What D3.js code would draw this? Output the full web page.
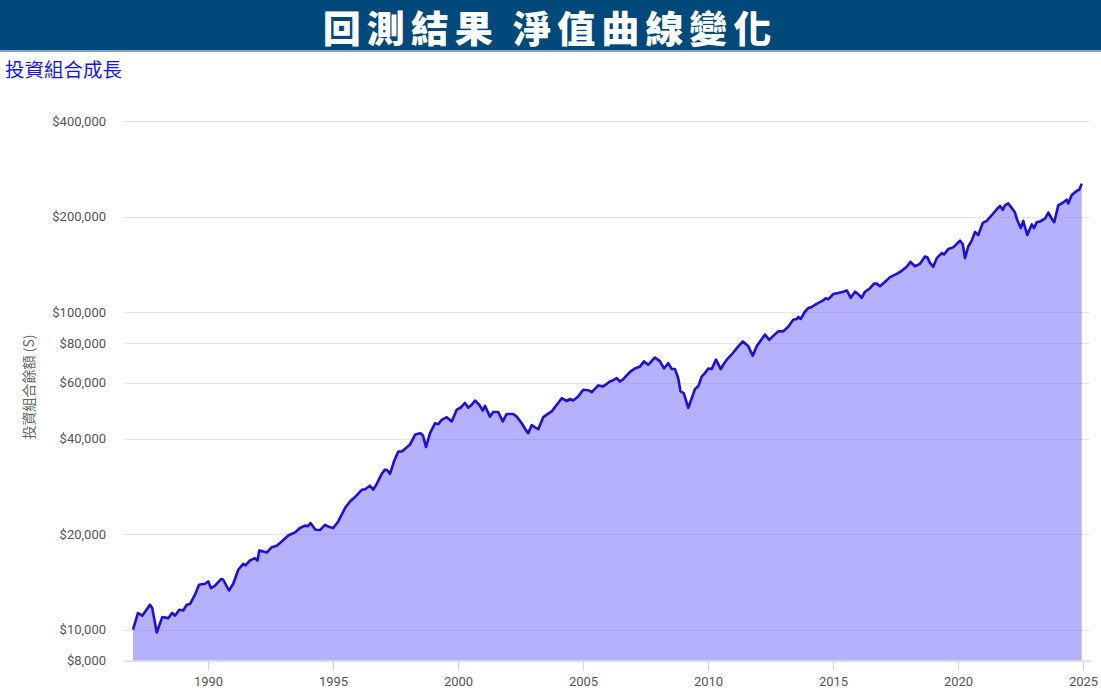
<!DOCTYPE html>
<html>
<head>
<meta charset="utf-8">
<script src="https://cdn.jsdelivr.net/npm/d3@7"></script>
<style>
  body { margin: 0; background: #fff; }
  svg { display: block; }
</style>
</head>
<body>
<div id="chart"></div>
<script>
// ---- data ----
const titleText = "回測結果 淨值曲線變化";
const subTitle = "投資組合成長";
const yLabel = "投資組合餘額 (S)";

const yTicks = [8000, 10000, 20000, 40000, 60000, 80000, 100000, 200000, 400000];
const xTicks = [1990, 1995, 2000, 2005, 2010, 2015, 2020, 2025];

// time points (decimal year)
const dates = [
  1987.00, 1987.20, 1987.37, 1987.68, 1987.77, 1987.95, 1988.17, 1988.41, 1988.57, 1988.68,
  1988.85, 1989.01, 1989.15, 1989.28, 1989.48, 1989.64, 1989.88, 1990.01, 1990.12, 1990.28,
  1990.52, 1990.60, 1990.84, 1991.01, 1991.21, 1991.41, 1991.50, 1991.68, 1991.88, 1991.98,
  1992.05, 1992.20, 1992.35, 1992.55, 1992.75, 1992.95, 1993.21, 1993.48, 1993.68, 1993.88,
  1994.00, 1994.10, 1994.30, 1994.48, 1994.68, 1994.83, 1995.01, 1995.21, 1995.48, 1995.68,
  1995.88, 1996.15, 1996.28, 1996.48, 1996.61, 1996.75, 1996.95, 1997.08, 1997.17, 1997.28,
  1997.44, 1997.61, 1997.75, 1997.84, 1998.08, 1998.28, 1998.48, 1998.60, 1998.72, 1998.88,
  1999.08, 1999.21, 1999.35, 1999.55, 1999.75, 1999.95, 2000.10, 2000.28, 2000.41, 2000.55,
  2000.68, 2000.85, 2000.99, 2001.08, 2001.28, 2001.41, 2001.61, 2001.79, 2001.95, 2002.21,
  2002.35, 2002.55, 2002.75, 2002.81, 2002.95, 2003.08, 2003.21, 2003.41, 2003.61, 2003.75,
  2003.95, 2004.15, 2004.35, 2004.48, 2004.61, 2004.81, 2005.01, 2005.21, 2005.35, 2005.61,
  2005.81, 2006.08, 2006.21, 2006.35, 2006.48, 2006.61, 2006.88, 2007.08, 2007.28, 2007.44,
  2007.61, 2007.88, 2008.08, 2008.24, 2008.41, 2008.55, 2008.68, 2008.81, 2008.90, 2009.03,
  2009.21, 2009.35, 2009.48, 2009.61, 2009.75, 2009.88, 2010.01, 2010.15, 2010.32, 2010.51,
  2010.61, 2010.75, 2010.95, 2011.15, 2011.39, 2011.61, 2011.79, 2011.95, 2012.28, 2012.45,
  2012.61, 2012.81, 2013.01, 2013.21, 2013.41, 2013.55, 2013.61, 2013.71, 2013.88, 2014.01,
  2014.15, 2014.28, 2014.41, 2014.59, 2014.71, 2014.81, 2015.01, 2015.21, 2015.41, 2015.56,
  2015.71, 2015.88, 2016.01, 2016.15, 2016.28, 2016.48, 2016.64, 2016.75, 2016.88, 2017.15,
  2017.28, 2017.55, 2017.75, 2017.95, 2018.10, 2018.28, 2018.48, 2018.68, 2018.77, 2018.88,
  2019.01, 2019.15, 2019.35, 2019.44, 2019.61, 2019.81, 2020.08, 2020.19, 2020.28, 2020.41,
  2020.55, 2020.68, 2020.81, 2020.99, 2021.15, 2021.35, 2021.55, 2021.68, 2021.79, 2021.88,
  2022.01, 2022.15, 2022.28, 2022.37, 2022.51, 2022.61, 2022.77, 2022.95, 2023.04, 2023.15,
  2023.28, 2023.48, 2023.61, 2023.75, 2023.85, 2024.01, 2024.15, 2024.35, 2024.41, 2024.55,
  2024.75, 2024.85, 2024.95
];

// portfolio balance ($)
const balances = [
  10000, 11290, 11070, 11990, 11700, 9800, 10960, 10880, 11290, 11070,
  11560, 11500, 11990, 12050, 12890, 13860, 13960, 14190, 13530, 13760,
  14440, 14400, 13290, 13960, 15450, 16130, 15950, 16530, 16800, 16530,
  17770, 17650, 17500, 18200, 18380, 18970, 19800, 20250, 20910, 21270,
  21200, 21670, 20650, 20600, 21400, 21100, 20900, 21930, 24160, 25350,
  26170, 27590, 27700, 28410, 27590, 28800, 30980, 31920, 31800, 30980,
  33900, 36400, 36400, 36900, 38300, 41100, 41600, 40900, 37600, 41600,
  44700, 44400, 45800, 46700, 45300, 49300, 50000, 51800, 50000, 51100,
  52700, 51100, 49000, 50700, 46900, 48500, 48500, 45300, 47800, 47800,
  46900, 44700, 42100, 41600, 44100, 43400, 42800, 46700, 47900, 48700,
  51100, 53600, 52500, 53300, 52700, 54300, 57000, 56800, 56000, 58800,
  58400, 60500, 61100, 62000, 60500, 61500, 64900, 66500, 67400, 70000,
  68300, 72000, 70000, 66500, 69100, 66200, 66200, 62000, 56300, 55600,
  50000, 53600, 57300, 58400, 62800, 64300, 66500, 66200, 70900, 66200,
  68300, 70900, 73600, 77000, 80900, 78200, 72900, 78200, 85000, 81800,
  84200, 87000, 87000, 90000, 94700, 95200, 96600, 95200, 100500, 103000,
  103800, 105500, 107000, 108700, 110600, 109800, 114000, 115000, 116000, 117000,
  111000, 116000, 114000, 111000, 116000, 119000, 123000, 123000, 120700, 126000,
  129000, 132000, 135000, 139000, 144000, 139500, 142000, 149700, 149000, 143000,
  139000, 148000, 153500, 152000, 158000, 160000, 168000, 164000, 148000, 161000,
  168000, 179000, 175000, 191000, 194000, 202000, 211000, 216000, 210000, 217000,
  220000, 213000, 206000, 195000, 184000, 194000, 175000, 189000, 184000, 192000,
  193000, 197000, 206000, 197000, 192000, 217000, 220000, 226000, 220000, 234000,
  241000, 243000, 254000
];

const series = dates.map((d, i) => ({ t: d, v: balances[i] }));

// ---- layout ----
const W = 1101, H = 695;
const plot = { left: 124, right: 1092, top: 121, bottom: 660.5 };

const svg = d3.select("#chart")
  .append("svg")
  .attr("width", W)
  .attr("height", H);

// title bar
svg.append("rect")
  .attr("x", 0).attr("y", 0)
  .attr("width", W).attr("height", 50)
  .attr("fill", "#01497a");
svg.append("rect")
  .attr("x", 0).attr("y", 50)
  .attr("width", W).attr("height", 2)
  .attr("fill", "#8aa3b8");

svg.append("text")
  .attr("transform", `translate(550,43) scale(1.03,1)`)
  .attr("text-anchor", "middle")
  .style("font-family", "'Noto Sans CJK TC', 'Noto Sans CJK SC', sans-serif")
  .style("font-weight", "900")
  .style("font-size", "37px")
  .style("letter-spacing", "5.7px")
  .style("fill", "#fff")
  .text(titleText);

svg.append("text")
  .attr("x", 5)
  .attr("y", 77)
  .style("font-family", "'Noto Sans CJK TC', sans-serif")
  .style("font-size", "19.5px")
  .style("fill", "#1414ff")
  .text(subTitle);

// ---- scales ----
const x = d3.scaleLinear()
  .domain([1986.64, 2025.36])
  .range([plot.left, plot.right]);

const y = d3.scaleLog()
  .domain([8000, 400000])
  .range([plot.bottom, plot.top]);

// =========================
// GRIDLINES
// =========================
svg.append("g")
  .selectAll("line")
  .data(yTicks)
  .join("line")
  .attr("x1", plot.left)
  .attr("x2", plot.right - 2)
  .attr("y1", d => Math.round(y(d)) + 0.5)
  .attr("y2", d => Math.round(y(d)) + 0.5)
  .attr("stroke", "#e6e6e6")
  .attr("stroke-width", 1.2);

// =========================
// AREA + LINE
// =========================
const area = d3.area()
  .x(d => x(d.t))
  .y0(plot.bottom)
  .y1(d => y(d.v));

svg.append("path")
  .datum(series)
  .attr("d", area)
  .attr("fill", "rgb(107,99,249)")
  .attr("fill-opacity", 0.5);

const line = d3.line()
  .x(d => x(d.t))
  .y(d => y(d.v));

svg.append("path")
  .datum(series)
  .attr("d", line)
  .attr("fill", "none")
  .attr("stroke", "#1c0fe0")
  .attr("stroke-width", 2.6)
  .attr("stroke-linejoin", "round");

// =========================
// AXES
// =========================
const yAxis = svg.append("g")
  .attr("transform", `translate(${plot.left - 18},0)`)
  .call(d3.axisLeft(y).tickValues(yTicks).tickFormat(d => "$" + d3.format(",")(d)).tickSize(0).tickPadding(0));
yAxis.select(".domain").remove();
yAxis.selectAll("text")
  .style("font-family", "Roboto, 'Noto Sans', sans-serif")
  .style("font-size", "13px")
  .style("fill", "#555");

const xAxis = svg.append("g")
  .attr("transform", `translate(0,${plot.bottom})`)
  .call(d3.axisBottom(x).tickValues(xTicks).tickFormat(d3.format("d")).tickSize(10).tickPadding(6).tickSizeOuter(0));
xAxis.select(".domain").attr("stroke", "#ccd6eb");
xAxis.selectAll(".tick line").attr("stroke", "#ccd6eb");
xAxis.selectAll("text")
  .style("font-family", "Roboto, 'Noto Sans', sans-serif")
  .style("font-size", "13px")
  .style("fill", "#555");

// y axis label
svg.append("text")
  .attr("transform", "translate(34,387) rotate(-90)")
  .attr("text-anchor", "middle")
  .style("font-family", "'Noto Sans CJK TC', sans-serif")
  .style("font-size", "14px")
  .style("fill", "#666")
  .text(yLabel);
</script>
</body>
</html>
